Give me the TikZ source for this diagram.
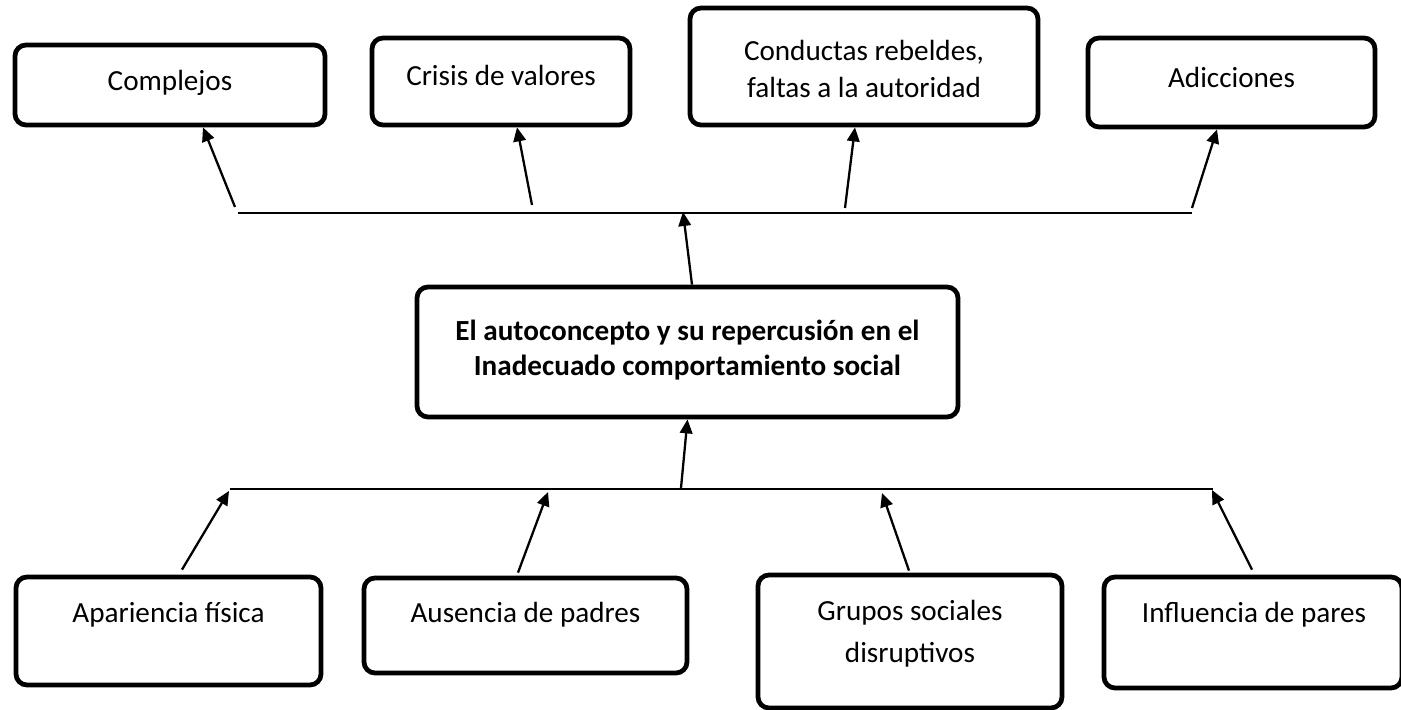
\documentclass[tikz,border=0pt]{standalone}
\usepackage{fontspec}
\setmainfont{Carlito}
\usetikzlibrary{arrows.meta}

\begin{document}
\begin{tikzpicture}[every node/.style={inner sep=0pt, align=center, font=\fontsize{16.6}{21.6}\selectfont}, box/.style={draw, line width=2.7pt, rounded corners=0.22cm}, arr/.style={-{Triangle[length=2.8mm,width=2.5mm]}, line width=1.3pt}]
\useasboundingbox (0,0) rectangle (28.02,14.2);
\node[box, minimum width=6.20cm, minimum height=1.60cm] (T1) at (3.40,12.50) {};
\node[box, minimum width=5.16cm, minimum height=1.74cm] (T2) at (10.02,12.57) {};
\node[box, minimum width=6.96cm, minimum height=2.34cm] (T3) at (17.28,12.87) {};
\node[box, minimum width=5.74cm, minimum height=1.78cm] (T4) at (24.63,12.55) {};
\node[box, minimum width=10.82cm, minimum height=2.60cm] (C0) at (13.75,7.16) {};
\node[box, minimum width=6.10cm, minimum height=2.16cm] (B1) at (3.37,1.58) {};
\node[box, minimum width=6.46cm, minimum height=1.90cm] (B2) at (10.51,1.69) {};
\node[box, minimum width=6.08cm, minimum height=2.66cm] (B3) at (18.20,1.37) {};
\node[box, minimum width=5.96cm, minimum height=2.22cm] (B4) at (25.06,1.55) {};
\node (T1t) at (3.40,12.54) {Complejos};
\node (T2t) at (10.02,12.70) {Crisis de valores};
\node (T3t) at (17.28,12.82) {Conductas rebeldes,\\faltas a la autoridad};
\node (T4t) at (24.63,12.66) {Adicciones};
\node[font=\fontsize{16.6}{19.5}\selectfont\bfseries] (C0t) at (13.75,7.20) {El autoconcepto y su repercusión en el\\Inadecuado comportamiento social};
\node (B1t) at (3.37,1.90) {Apariencia física};
\node (B2t) at (10.51,1.90) {Ausencia de padres};
\node[font=\fontsize{16.6}{23.8}\selectfont] (B3t) at (18.20,1.52) {Grupos sociales\\disruptivos};
\node (B4t) at (25.08,1.90) {Influencia de pares};
\coordinate (TL) at (4.76,9.94);
\coordinate (TR) at (23.84,9.94);
\coordinate (TM) at (13.66,9.96);
\coordinate (T1s) at (4.70,10.06);
\coordinate (T2s) at (10.64,10.10);
\coordinate (T3s) at (16.90,10.04);
\coordinate (T4s) at (23.84,10.04);
\coordinate (BL) at (4.60,4.42);
\coordinate (BR) at (24.26,4.42);
\coordinate (BM) at (13.62,4.44);
\coordinate (B1e) at (4.58,4.38);
\coordinate (B2e) at (10.96,4.36);
\coordinate (B3e) at (17.64,4.34);
\coordinate (B4e) at (24.24,4.40);
\draw[line width=0.9pt] (TL) -- (TR);
\draw[line width=0.9pt] (BL) -- (BR);
\draw[arr] (T1s) -- ([xshift=0.66cm]T1.south);
\draw[arr] (T2s) -- ([xshift=0.32cm]T2.south);
\draw[arr] (T3s) -- ([xshift=-0.18cm]T3.south);
\draw[arr] (T4s) -- ([xshift=-0.29cm]T4.south);
\draw[arr] ([xshift=0.09cm]C0.north) -- (TM);
\draw[arr] (BM) -- (C0.south);
\draw[arr] ([xshift=0.27cm,yshift=0.1cm]B1.north) -- (B1e);
\draw[arr] ([xshift=-0.15cm,yshift=0.06cm]B2.north) -- (B2e);
\draw[arr] ([xshift=-0.02cm,yshift=0.04cm]B3.north) -- (B3e);
\draw[arr] ([xshift=-0.02cm,yshift=0.1cm]B4.north) -- (B4e);
\end{tikzpicture}
\end{document}
